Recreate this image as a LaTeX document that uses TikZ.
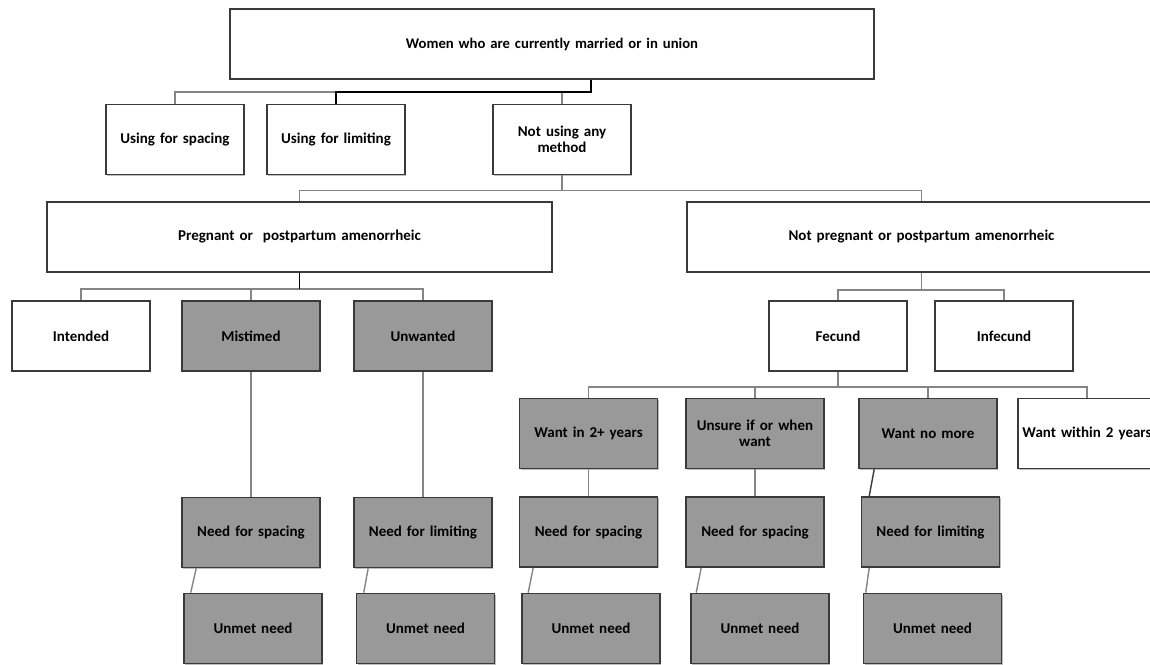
\documentclass[tikz,border=0pt]{standalone}
\usepackage{fontspec}
\setmainfont[WordSpace=0.6]{Carlito}
\usetikzlibrary{calc,shadows}
\definecolor{boxgray}{HTML}{999999}
\definecolor{edgecol}{HTML}{3A3A3A}
\definecolor{conngray}{HTML}{858585}
\tikzset{
  box/.style={draw=edgecol, line width=1.6pt, fill=white, minimum width=138pt, minimum height=70pt,
    inner sep=2pt, align=center, text width=134pt, font=\fontsize{15}{16}\selectfont\bfseries,
    drop shadow={shadow xshift=1.2pt, shadow yshift=-1.2pt, fill=black, opacity=0.25}},
  greybox/.style={box, fill=boxgray},
  conn/.style={draw=conngray, line width=1.4pt},
  blk/.style={draw=black, line width=1.7pt}
}
\begin{document}
\begin{tikzpicture}[x=1pt, y=-1pt]
\clip (0,0) rectangle (1150,664);
\fill[white] (0,0) rectangle (1150,664);

% level 0
\node[box, minimum width=644pt, text width=600pt, font=\fontsize{14.7}{17}\selectfont\bfseries] (top) at (552,44) {Women who are currently married or in union};
% level 1
\node[box] (usp) at (175,139.5) {Using for spacing};
\node[box] (ulim) at (336,139.5) {Using for limiting};
\node[box] (nuse) at (562,139.5) {Not using any\\method};
% level 2
\node[box, minimum width=505pt, text width=480pt] (preg) at (299.5,237) {Pregnant or\ \ postpartum amenorrheic};
\node[box, minimum width=469pt, text width=440pt] (npreg) at (921.5,237) {Not pregnant or postpartum amenorrheic};
% level 3
\node[box] (intended) at (81,336) {Intended};
\node[greybox] (mistimed) at (251,336) {Mistimed};
\node[greybox] (unwanted) at (423,336) {Unwanted};
\node[box] (fecund) at (838,336) {Fecund};
\node[box] (infecund) at (1004,336) {Infecund};
% level 4
\node[greybox] (w2) at (588.5,433.5) {Want in 2+ years};
\node[greybox] (unsure) at (755,433.5) {Unsure if or when\\want};
\node[greybox] (nomore) at (928,433.5) {Want no more};
\node[box] (within) at (1087,433.5) {Want within 2 years};
% level 5
\node[greybox] (needA) at (251,532.5) {Need for spacing};
\node[greybox] (needB) at (423,532.5) {Need for limiting};
\node[greybox] (needC) at (588.5,532) {Need for spacing};
\node[greybox] (needD) at (755,532) {Need for spacing};
\node[greybox] (needE) at (930.5,532) {Need for limiting};
% level 6
\node[greybox] (unmetA) at (253,628.5) {Unmet need};
\node[greybox] (unmetB) at (425.5,628.5) {Unmet need};
\node[greybox] (unmetC) at (591,628.5) {Unmet need};
\node[greybox] (unmetD) at (760,628.5) {Unmet need};
\node[greybox] (unmetE) at (932.5,628.5) {Unmet need};

% connectors
\coordinate (topstem) at ($(top.south)+(39,0)$);
\draw[conn] (topstem) -- ++(0,12) -| (usp.north);
\draw[conn] (topstem) -- ++(0,12) -| (nuse.north);
\draw[blk] (topstem) -- ++(0,12) -| (ulim.north);

\draw[conn] (nuse.south) -- ++(0,15) -| (preg.north);
\draw[conn] (nuse.south) -- ++(0,15) -| (npreg.north);

\draw[conn] (preg.south) ++(0,16) -| (intended.north);
\draw[conn] (preg.south) ++(0,16) -| (mistimed.north);
\draw[conn] (preg.south) ++(0,16) -| (unwanted.north);
\draw[blk] (preg.south) -- ++(0,16);

\draw[conn] (npreg.south) -- ++(0,17) -| (fecund.north);
\draw[conn] (npreg.south) -- ++(0,17) -| (infecund.north);

\draw[conn] (fecund.south) -- ++(0,15) -| (w2.north);
\draw[conn] (fecund.south) -- ++(0,15) -| (unsure.north);
\draw[conn] (fecund.south) -- ++(0,15) -| (nomore.north);
\draw[conn] (fecund.south) -- ++(0,15) -| (within.north);

\draw[conn] (mistimed.south) -- (needA.north);
\draw[conn] (unwanted.south) -- (needB.north);
\draw[conn] (w2.south) -- (needC.north);
\draw[conn] (unsure.south) -- (needD.north);
\draw[conn, draw=edgecol] ($(nomore.south west)+(16,0)$) -- ($(needE.north west)+(8.5,0)$);

\draw[conn] ($(needA.south west)+(15,0)$) -- ($(unmetA.north west)+(7.5,0)$);
\draw[conn] ($(needB.south west)+(15,0)$) -- ($(unmetB.north west)+(8,0)$);
\draw[conn] ($(needC.south west)+(14.5,0)$) -- ($(unmetC.north west)+(7,0)$);
\draw[conn] ($(needD.south west)+(16,0)$) -- ($(unmetD.north west)+(6,0)$);
\draw[conn] ($(needE.south west)+(8.5,0)$) -- ($(unmetE.north west)+(3,0)$);
\end{tikzpicture}
\end{document}
